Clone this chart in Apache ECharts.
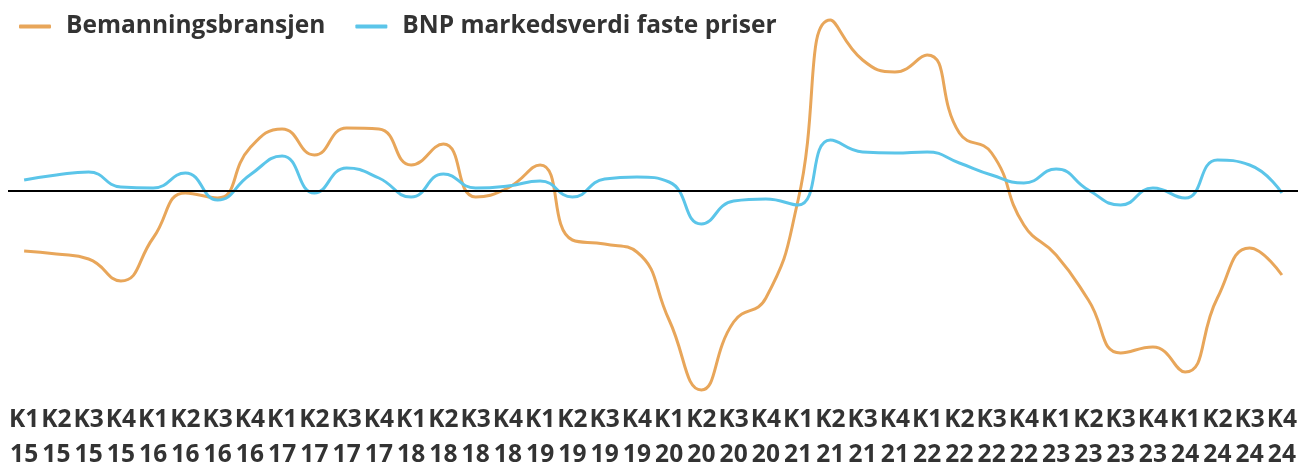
<!DOCTYPE html>
<html>
<head>
<meta charset="utf-8">
<script src="https://cdn.jsdelivr.net/npm/echarts@6/dist/echarts.min.js"></script>
<style>html,body{margin:0;padding:0;background:#fff;}</style>
</head>
<body>
<div id="main" style="width:1298px;height:464px;"></div>
<script type="text/javascript">
    // kvartaler K1 15 - K4 24
    var quarters = ['K1','K2','K3','K4'];
    var years = ['15','16','17','18','19','20','21','22','23','24'];
    var categories = [];
    years.forEach(function (y) {
        quarters.forEach(function (q) { categories.push(q + '\n' + y); });
    });

    var bemanning = [-12, -12.6, -13.6, -18, -9.4, -0.4, -1.4, 8.6, 12.4, 7.2,
        12.6, 12.4, 5.2, 9.4, -1.2, 0.6, 5.2, -9.8, -10.6, -12.2,
        -25.8, -39.8, -26.2, -21.4, -1.8, 34.2, 26.2, 23.8, 27.2, 11.6,
        7.6, -6.8, -12.8, -21.8, -32.4, -31.2, -36.2, -21.4, -11.4, -16.8];

    var bnp = [2.2, 3.2, 3.8, 0.8, 0.6, 3.6, -1.8, 3.2, 7, -0.4,
        4.6, 2.6, -1.2, 3.4, 0.6, 1, 2, -1.2, 2.4, 2.8,
        1.8, -6.6, -2, -1.6, -2.8, 10.2, 7.8, 7.6, 7.8, 5.6,
        3.2, 1.6, 4.4, 0.2, -2.8, 0.6, -1.4, 6.2, 5.2, -0.4];

    var myChart = echarts.init(document.getElementById('main'));
    var fontFam = '"Open Sans", "Noto Sans", sans-serif';
    var option = {
        animation: false,
        color: ['#E8A65A', '#5BC5E9'],
        legend: {
            left: 14,
            top: 9,
            itemWidth: 32,
            itemHeight: 4,
            itemGap: 30,
            icon: 'roundRect',
            textStyle: {
                fontFamily: fontFam,
                fontWeight: 'bold',
                fontSize: 24.5,
                color: '#333',
                padding: [0, 0, 0, 10]
            },
            data: ['Bemanningsbransjen', 'BNP markedsverdi faste priser']
        },
        grid: { left: 8, right: 0, top: 11, bottom: 68, containLabel: false, outerBoundsMode: 'none' },
        xAxis: {
            type: 'category',
            data: categories,
            boundaryGap: true,
            axisLine: { show: false },
            axisTick: { show: false },
            axisLabel: {
                interval: 0,
                hideOverlap: false,
                margin: 7,
                fontFamily: fontFam,
                fontWeight: 'bold',
                fontSize: 24.5,
                lineHeight: 35,
                color: '#333'
            }
        },
        yAxis: {
            type: 'value',
            min: -41,
            max: 36,
            show: false,
            splitLine: { show: false }
        },
        series: [
            {
                name: 'Bemanningsbransjen',
                type: 'line',
                smooth: true,
                symbol: 'none',
                lineStyle: { width: 3 },
                data: bemanning,
                markLine: {
                    silent: true,
                    symbol: 'none',
                    label: { show: false },
                    lineStyle: { color: '#000', width: 2, type: 'solid' },
                    data: [{ yAxis: 0 }]
                }
            },
            {
                name: 'BNP markedsverdi faste priser',
                type: 'line',
                smooth: true,
                symbol: 'none',
                lineStyle: { width: 3 },
                data: bnp
            }
        ]
    };
    myChart.setOption(option);
</script>
</body>
</html>
